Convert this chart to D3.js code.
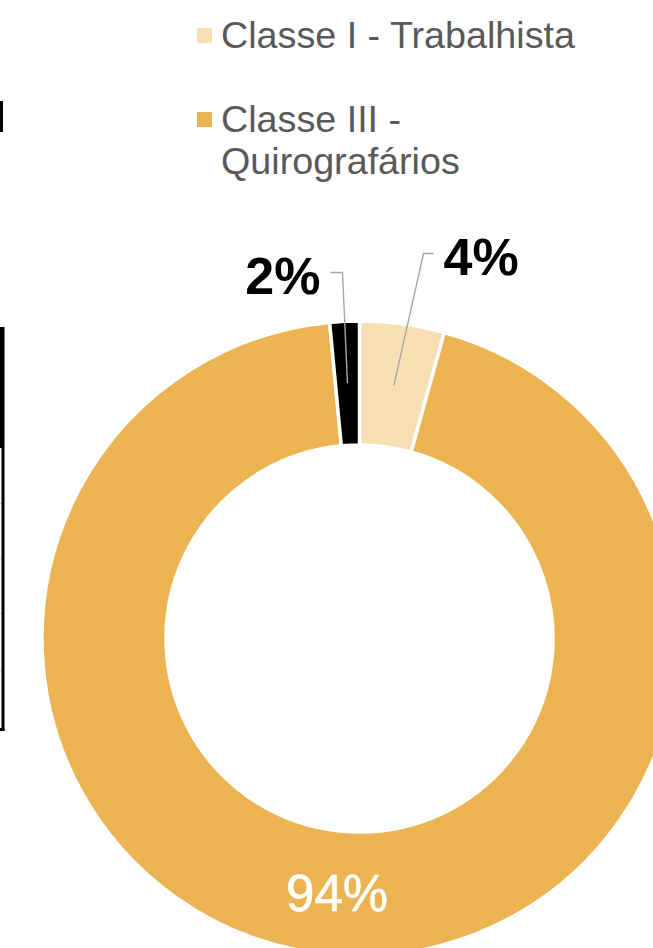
<!DOCTYPE html>
<html>
<head>
<meta charset="utf-8">
<script src="https://cdn.jsdelivr.net/npm/d3@7"></script>
<style>
  html, body { margin: 0; padding: 0; background: #fff; }
  svg { display: block; font-family: "Liberation Sans", Arial, sans-serif; }
</style>
</head>
<body>
<div id="chart"></div>
<script>
// --- DATA ---
const categories = ["Classe I - Trabalhista", "Classe III - Quirografários", "Classe IV - ME/EPP"];
const values = [4.3, 94.2, 1.5];
const pctLabels = ["4%", "94%", "2%"];
const sliceColors = ["#F7DFB3", "#EBB351", "#000000"];
// legend only shows the first two entries (rest is cut off in the slide)
const legendLines = [["Classe I - Trabalhista"], ["Classe III -", "Quirografários"]];

// --- SETUP ---
const width = 653, height = 948;
const cx = 359.5, cy = 638.5;
const outerR = 317.5, innerR = 193.5;

const svg = d3.select("#chart").append("svg")
    .attr("width", width)
    .attr("height", height);

// bits of a table from the slide, clipped at the left edge
const table = svg.append("g");
table.append("rect").attr("x", 0).attr("y", 101).attr("width", 3).attr("height", 31).attr("fill", "#000");
table.append("rect").attr("x", 0).attr("y", 327).attr("width", 4.5).attr("height", 121).attr("fill", "#000");
[503, 558, 613, 670].forEach(y => {
    table.append("rect").attr("x", 0).attr("y", y).attr("width", 3).attr("height", 1).attr("fill", "#d0d0d0");
});
table.append("rect").attr("x", 1.5).attr("y", 448).attr("width", 3).attr("height", 283).attr("fill", "#000");
table.append("rect").attr("x", 0).attr("y", 728).attr("width", 4.5).attr("height", 3).attr("fill", "#000");

// --- DONUT ---
const pie = d3.pie().sort(null).value(d => d)(values);
const arc = d3.arc().innerRadius(innerR).outerRadius(outerR);
const midArc = d3.arc().innerRadius((innerR + outerR) / 2).outerRadius((innerR + outerR) / 2);

const g = svg.append("g").attr("transform", `translate(${cx},${cy})`);

g.selectAll("path.slice")
    .data(pie)
    .join("path")
    .attr("class", "slice")
    .attr("d", arc)
    .attr("fill", (d, i) => sliceColors[i])
    .attr("stroke", "#fff")
    .attr("stroke-width", 3.5)
    .attr("stroke-linejoin", "miter");

// inside label (big slice)
const big = pie[1];
const bc = midArc.centroid(big);
g.append("text")
    .attr("x", bc[0]).attr("y", bc[1] + 18)
    .attr("text-anchor", "middle")
    .attr("fill", "#fff")
    .attr("font-size", 51)
    .attr("stroke", "#fff").attr("stroke-width", 0.6)
    .text(pctLabels[1]);

// outside labels with leader lines (offsets relative to chart centre)
const outside = [
    { i: 0, dx: 74, dy: -385, anchor: "start", elbow: -10 },
    { i: 2, dx: -29, dy: -366, anchor: "end", elbow: 12 }
];
outside.forEach(o => {
    const c = midArc.centroid(pie[o.i]);
    const ly = o.dy;           // leader horizontal y
    const lx = o.dx;           // leader horizontal end (near text)
    const ex = lx + o.elbow;   // elbow point
    g.append("path")
        .attr("d", `M${lx},${ly}H${ex}L${c[0]},${c[1]}`)
        .attr("fill", "none")
        .attr("stroke", "#A6A6A6")
        .attr("stroke-width", 1.4);
    g.append("text")
        .attr("x", o.anchor === "start" ? lx + 10 : lx - 10)
        .attr("y", ly + 21)
        .attr("text-anchor", o.anchor)
        .attr("font-size", 52)
        .attr("font-weight", "bold")
        .attr("fill", "#000")
        .text(pctLabels[o.i]);
});

// --- LEGEND ---
const legend = svg.append("g").attr("transform", "translate(197,0)");
const legendTop = [28, 112];
legendLines.forEach((lines, i) => {
    legend.append("rect")
        .attr("x", 0).attr("y", legendTop[i])
        .attr("width", 15).attr("height", 15)
        .attr("fill", sliceColors[i]);
    const t = legend.append("text")
        .attr("x", 24).attr("y", legendTop[i] + 20)
        .attr("font-size", 37.7)
        .attr("fill", "#595959");
    lines.forEach((ln, k) => {
        t.append("tspan").attr("x", 24).attr("dy", k === 0 ? 0 : 42).text(ln);
    });
});
</script>
</body>
</html>
